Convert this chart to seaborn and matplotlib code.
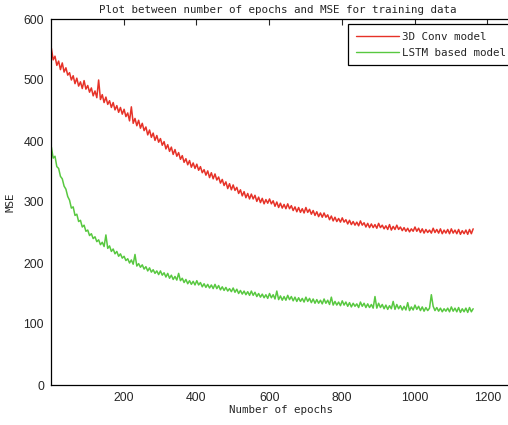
import matplotlib
matplotlib.use("Agg")
import matplotlib.pyplot as plt
import pandas as pd
import seaborn as sns
import numpy as np

# MSE, one value every 5 epochs
epochs = np.arange(1, 1162, 5)

conv_mse = [
    552, 533, 539, 524, 531, 517, 528, 513, 520, 508,
    512, 500, 507, 494, 503, 490, 497, 486, 499, 485,
    491, 480, 487, 474, 482, 471, 500, 468, 476, 463,
    472, 460, 466, 455, 463, 451, 458, 447, 455, 444,
    452, 440, 446, 433, 456, 429, 437, 425, 434, 421,
    429, 417, 423, 410, 418, 406, 413, 401, 409, 398,
    404, 393, 399, 387, 394, 383, 390, 378, 386, 375,
    381, 370, 376, 365, 371, 361, 368, 357, 364, 355,
    362, 352, 358, 348, 353, 344, 351, 340, 348, 338,
    346, 336, 341, 331, 337, 327, 333, 322, 330, 320,
    328, 319, 324, 314, 320, 310, 317, 307, 314, 305,
    313, 305, 311, 301, 308, 299, 306, 297, 304, 298,
    305, 297, 302, 293, 300, 291, 298, 290, 296, 289,
    297, 289, 294, 286, 292, 284, 291, 283, 289, 282,
    291, 283, 288, 280, 286, 278, 284, 276, 282, 275,
    282, 275, 279, 271, 277, 269, 275, 268, 273, 267,
    274, 267, 271, 264, 270, 263, 268, 262, 267, 261,
    269, 262, 266, 259, 265, 258, 264, 258, 263, 257,
    265, 258, 262, 256, 261, 255, 263, 254, 260, 255,
    262, 255, 259, 253, 258, 252, 257, 251, 256, 252,
    259, 252, 257, 250, 256, 249, 255, 250, 254, 249,
    257, 250, 255, 249, 256, 248, 254, 249, 255, 248,
    256, 249, 254, 248, 255, 247, 253, 248, 254, 247,
    255, 248, 256,
]

lstm_mse = [
    390, 372, 375, 358, 355, 342, 338, 326, 321, 309,
    303, 290, 292, 278, 280, 268, 270, 259, 262, 252,
    254, 245, 248, 240, 243, 235, 238, 230, 234, 227,
    246, 224, 228, 219, 223, 215, 219, 211, 215, 208,
    211, 204, 207, 200, 205, 198, 214, 195, 199, 193,
    197, 190, 194, 187, 192, 185, 189, 183, 187, 181,
    187, 180, 184, 177, 183, 175, 180, 173, 178, 172,
    183, 171, 175, 168, 173, 166, 171, 165, 170, 164,
    171, 164, 168, 161, 166, 160, 165, 159, 164, 158,
    165, 158, 163, 156, 161, 155, 160, 154, 158, 153,
    159, 152, 157, 150, 155, 149, 154, 148, 153, 147,
    154, 147, 152, 145, 150, 144, 149, 143, 148, 142,
    150, 143, 148, 141, 154, 140, 146, 139, 145, 139,
    147, 140, 145, 138, 144, 137, 143, 137, 142, 136,
    144, 137, 142, 135, 141, 134, 140, 134, 139, 133,
    141, 134, 139, 132, 144, 131, 137, 131, 136, 130,
    138, 131, 136, 129, 135, 128, 134, 129, 133, 127,
    136, 129, 134, 127, 133, 127, 132, 126, 145, 126,
    134, 127, 132, 125, 131, 124, 130, 125, 137, 124,
    132, 125, 130, 123, 129, 123, 135, 122, 128, 123,
    131, 124, 129, 122, 128, 121, 127, 122, 126, 148,
    129, 122, 127, 121, 126, 120, 125, 121, 126, 120,
    128, 121, 126, 120, 127, 119, 125, 120, 126, 119,
    127, 120, 125,
]

labels = ["3D Conv model", "LSTM based model"]
colors = ["#e63228", "#58c840"]

df = pd.concat([
    pd.DataFrame({"epoch": epochs, "mse": conv_mse, "model": labels[0]}),
    pd.DataFrame({"epoch": epochs, "mse": lstm_mse, "model": labels[1]}),
])

sns.set_style("white")
mono = "DejaVu Sans Mono"

fig = plt.figure(figsize=(5.08, 4.25), dpi=100)
# axes run past the right edge, like the cropped original
ax = fig.add_axes([51 / 508, 40 / 425, 472.7 / 508, 366 / 425])

sns.lineplot(data=df, x="epoch", y="mse", hue="model", palette=colors,
             linewidth=1.1, ax=ax, legend=False)

ax.set_xlim(0, 1300)
ax.set_ylim(0, 600)
ax.set_xticks([200, 400, 600, 800, 1000, 1200])
ax.set_yticks([0, 100, 200, 300, 400, 500, 600])
ax.tick_params(direction="in", top=True, right=True, length=4, width=0.8,
               labelsize=8.8, pad=5)
for lab in ax.get_xticklabels() + ax.get_yticklabels():
    lab.set_fontfamily("Liberation Sans")
for sp in ax.spines.values():
    sp.set_color("black")
    sp.set_linewidth(0.9)

ax.set_title("Plot between number of epochs and MSE for training data",
             fontsize=7.8, family=mono, pad=4, x=0.48)
ax.set_xlabel("Number of epochs", fontsize=7.8, family=mono, labelpad=5)
ax.xaxis.set_label_coords(0.487, -0.055)
ax.set_ylabel("MSE", fontsize=7.8, family=mono, labelpad=6)

handles = [plt.Line2D([], [], color=c, linewidth=1.0) for c in colors]
leg = ax.legend(handles, labels, loc="upper left",
                bbox_to_anchor=(348 / 508, 1 - 24 / 425),
                bbox_transform=fig.transFigure, borderaxespad=0,
                prop={"family": mono, "size": 7.8}, fancybox=False,
                framealpha=1, edgecolor="black", handlelength=4.0,
                handletextpad=0.3, labelspacing=0.55, borderpad=0.7)
leg.get_frame().set_linewidth(0.9)

fig.savefig("out.png", dpi=100)
